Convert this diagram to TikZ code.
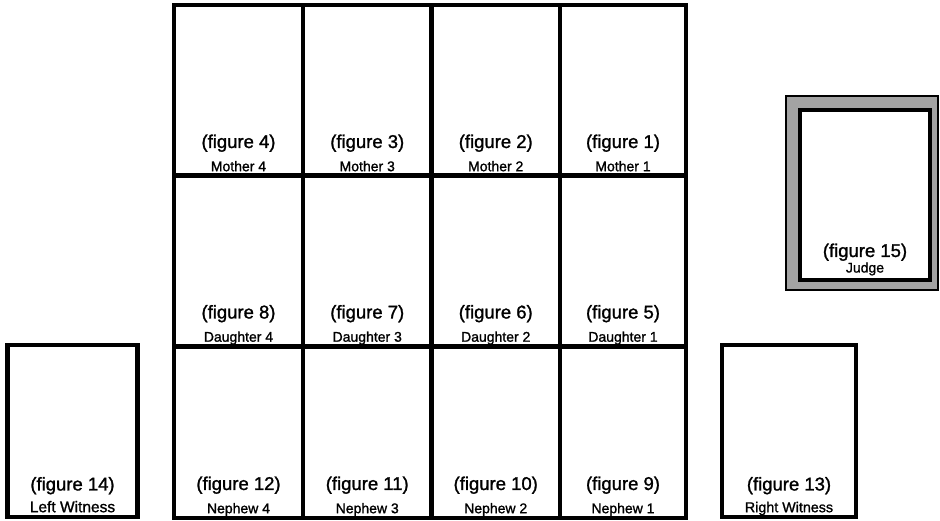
\documentclass[tikz,border=0pt]{standalone}
\usepackage{fontspec}
\setmainfont{Liberation Sans}
\newfontfamily\labfont[FakeBold=1.3]{Liberation Sans}
\usetikzlibrary{calc}
\tikzset{
  box/.style={draw=black, line width=4.2pt, rectangle, inner sep=0pt, outer sep=0pt},
  frame/.style={draw=black, line width=1.6pt, rectangle, inner sep=0pt, outer sep=0pt, fill=black!36},
  figtxt/.style={font=\labfont\fontsize{18.5}{20}\selectfont, anchor=base, inner sep=0pt},
  whotxt/.style={font=\labfont\fontsize{14}{16}\selectfont, anchor=base, inner sep=0pt},
}
\newcommand{\cellbox}[6]{%
  % #1 name, #2 x center, #3 y center, #4 width, #5 figure text, #6 role
  \node[box, minimum width=#4pt, minimum height=171pt] (#1) at (#2,#3) {};
  \node[figtxt] (#1f) at ($(#1.south)+(0,28)$) {#5};
  \node[whotxt] (#1r) at ($(#1.south)+(0,4.8)$) {#6};
}
\begin{document}
\begin{tikzpicture}[x=1pt,y=1pt]
\useasboundingbox (0,0) rectangle (940,521);
% row 1 mothers
\cellbox{m4}{238.5}{430.5}{129}{(figure 4)}{Mother 4}
\cellbox{m3}{367.25}{430.5}{128.5}{(figure 3)}{Mother 3}
\cellbox{m2}{495.75}{430.5}{128.5}{(figure 2)}{Mother 2}
\cellbox{m1}{623}{430.5}{126}{(figure 1)}{Mother 1}
% row 2 daughters
\cellbox{d4}{238.5}{260}{129}{(figure 8)}{Daughter 4}
\cellbox{d3}{367.25}{260}{128.5}{(figure 7)}{Daughter 3}
\cellbox{d2}{495.75}{260}{128.5}{(figure 6)}{Daughter 2}
\cellbox{d1}{623}{260}{126}{(figure 5)}{Daughter 1}
% row 3 nephews
\cellbox{n4}{238.5}{88.5}{129}{(figure 12)}{Nephew 4}
\cellbox{n3}{367.25}{88.5}{128.5}{(figure 11)}{Nephew 3}
\cellbox{n2}{495.75}{88.5}{128.5}{(figure 10)}{Nephew 2}
\cellbox{n1}{623}{88.5}{126}{(figure 9)}{Nephew 1}
% witnesses
\node[box, minimum width=130pt, minimum height=172pt] (lw) at (72.5,90) {};
\node[figtxt] (lwf) at ($(lw.south)+(0,26.5)$) {(figure 14)};
\node[whotxt, font=\labfont\fontsize{15.5}{17}\selectfont] (lwr) at ($(lw.south)+(0,4.8)$) {Left Witness};
\node[box, minimum width=134pt, minimum height=172pt] (rw) at (789,90) {};
\node[figtxt] (rwf) at ($(rw.south)+(0,26.5)$) {(figure 13)};
\node[whotxt, font=\labfont\fontsize{14.3}{16}\selectfont] (rwr) at ($(rw.south)+(0,4.8)$) {Right Witness};
% judge
\node[frame, minimum width=152pt, minimum height=194pt] (jo) at (862,328) {};
\node[box, fill=white, minimum width=130pt, minimum height=170pt] (judge) at (865,326) {};
\node[figtxt] (jf) at ($(judge.south)+(0,23)$) {(figure 15)};
\node[whotxt] (jr) at ($(judge.south)+(0,7.5)$) {Judge};
\end{tikzpicture}
\end{document}
